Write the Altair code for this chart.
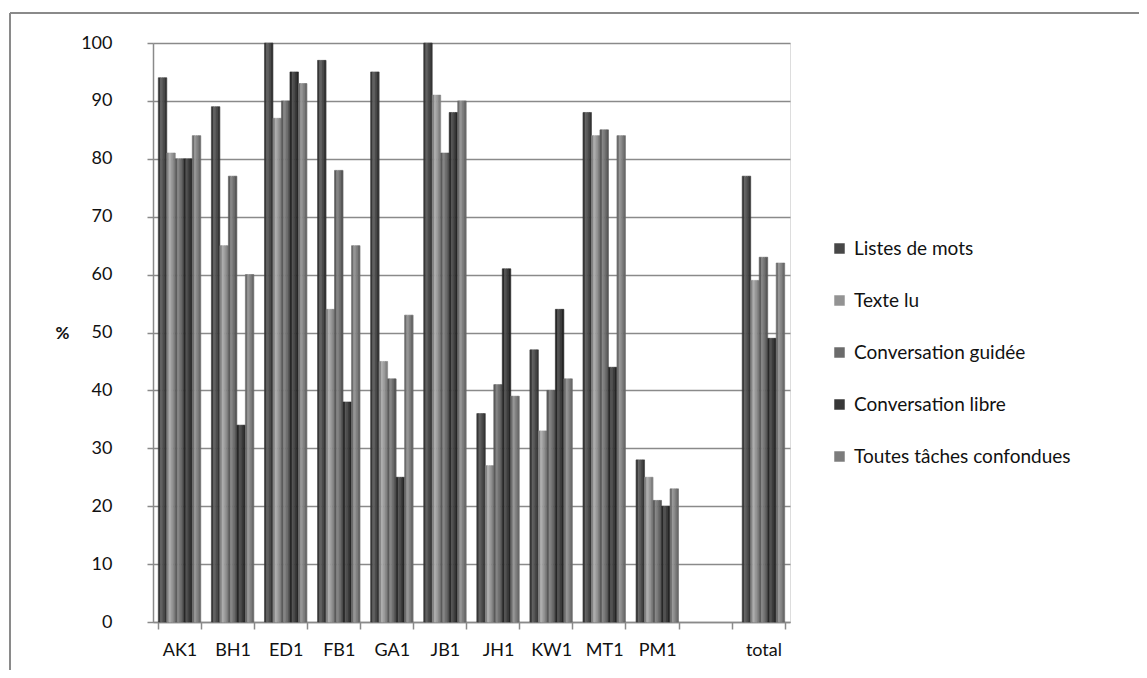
import altair as alt
import pandas as pd

categories = ["AK1", "BH1", "ED1", "FB1", "GA1", "JB1", "JH1", "KW1", "MT1", "PM1", " ", "total"]
series = ["Listes de mots", "Texte lu", "Conversation guidée", "Conversation libre", "Toutes tâches confondues"]
data_cats = ["AK1", "BH1", "ED1", "FB1", "GA1", "JB1", "JH1", "KW1", "MT1", "PM1", "total"]
listes = [94, 89, 100, 97, 95, 100, 36, 47, 88, 28, 77]
texte = [81, 65, 87, 54, 45, 91, 27, 33, 84, 25, 59]
guidee = [80, 77, 90, 78, 42, 81, 41, 40, 85, 21, 63]
libre = [80, 34, 95, 38, 25, 88, 61, 54, 44, 20, 49]
toutes = [84, 60, 93, 65, 53, 90, 39, 42, 84, 23, 62]
colors = ["#474747", "#939393", "#6b6b6b", "#383838", "#7c7c7c"]
# cylinder shading: four vertical strips per bar (left edge, highlight, body, right edge)
part_shift = [-16, 26, 6, -18]


def shade(hexcol, d):
    v = int(hexcol[1:3], 16)
    v = max(0, min(255, v + d))
    return "#%02x%02x%02x" % (v, v, v)


slots, slot_colors = [], []
for si, c in enumerate(colors):
    for pi, d in enumerate(part_shift):
        slots.append(f"{si}-{pi}")
        slot_colors.append(shade(c, d))

rows, rows_parts = [], []
for si, (s, vals) in enumerate(zip(series, [listes, texte, guidee, libre, toutes])):
    for c, v in zip(data_cats, vals):
        rows.append({"cat": c, "serie": s, "val": v})
        for pi in range(len(part_shift)):
            rows_parts.append({"cat": c, "slot": f"{si}-{pi}", "val": v})
df = pd.DataFrame(rows)
dfp = pd.DataFrame(rows_parts)

FONT = "Lato"
GRID = "#8a8a8a"

x_enc = alt.X("cat:N", sort=categories,
              scale=alt.Scale(domain=categories, paddingInner=0.2, paddingOuter=0.1),
              axis=alt.Axis(title=None, labelAngle=0, tickBand="extent", tickSize=7,
                            labelPadding=12, labelFontSize=18, labelFont=FONT,
                            labelColor="#111111", domainColor=GRID, tickColor=GRID,
                            domainWidth=1.5, tickWidth=1.5, grid=False))
y_enc = alt.Y("val:Q", scale=alt.Scale(domain=[0, 100]),
              axis=alt.Axis(title="%", titleAngle=0, titleX=-91, titleY=290,
                            titleAlign="center", titleBaseline="middle",
                            titleFontSize=17, titleFont=FONT, titleFontWeight="bold",
                            titleColor="#111111",
                            values=list(range(0, 101, 10)), tickSize=6,
                            labelPadding=35, labelFontSize=18, labelFont=FONT,
                            labelColor="#111111", domainColor=GRID, tickColor=GRID,
                            domainWidth=1.5, tickWidth=1.5,
                            grid=True, gridColor=GRID, gridWidth=1.5))

slot_scale = alt.Scale(domain=slots, range=slot_colors)
bars = alt.Chart(dfp).mark_bar(strokeWidth=0.6).encode(
    x=x_enc,
    xOffset=alt.XOffset("slot:N", sort=slots,
                        scale=alt.Scale(domain=slots, paddingInner=0, paddingOuter=0)),
    y=y_enc,
    fill=alt.Fill("slot:N", scale=slot_scale, legend=None),
    stroke=alt.Stroke("slot:N", scale=slot_scale, legend=None),
)

legend_layer = alt.Chart(df).mark_point(shape="square", filled=True, opacity=0).encode(
    color=alt.Color("serie:N", sort=series,
                    scale=alt.Scale(domain=series, range=colors),
                    legend=alt.Legend(title=None, orient="none", legendX=677, legendY=196,
                                      symbolType="square", symbolSize=110,
                                      symbolOpacity=1, symbolStrokeWidth=0,
                                      labelFontSize=19, labelFont=FONT,
                                      labelColor="#111111", labelOffset=5,
                                      rowPadding=32, labelLimit=400)),
)

frame_top = alt.Chart(df).mark_rule(color=GRID, strokeWidth=1.5).encode(
    x=alt.value(-143), x2=alt.value(1000), y=alt.value(-30))
frame_left = alt.Chart(df).mark_rule(color=GRID, strokeWidth=1.5).encode(
    x=alt.value(-143), y=alt.value(-30), y2=alt.value(700))

chart = alt.layer(bars, legend_layer, frame_top, frame_left).properties(
    width=637, height=579,
    autosize=alt.AutoSizeParams(type="none"),
    padding={"left": 145, "top": 35, "right": 349, "bottom": 48},
).configure_view(stroke=None).configure(background="white")

chart.save("out.html", embed_options={"renderer": "svg", "actions": False})
